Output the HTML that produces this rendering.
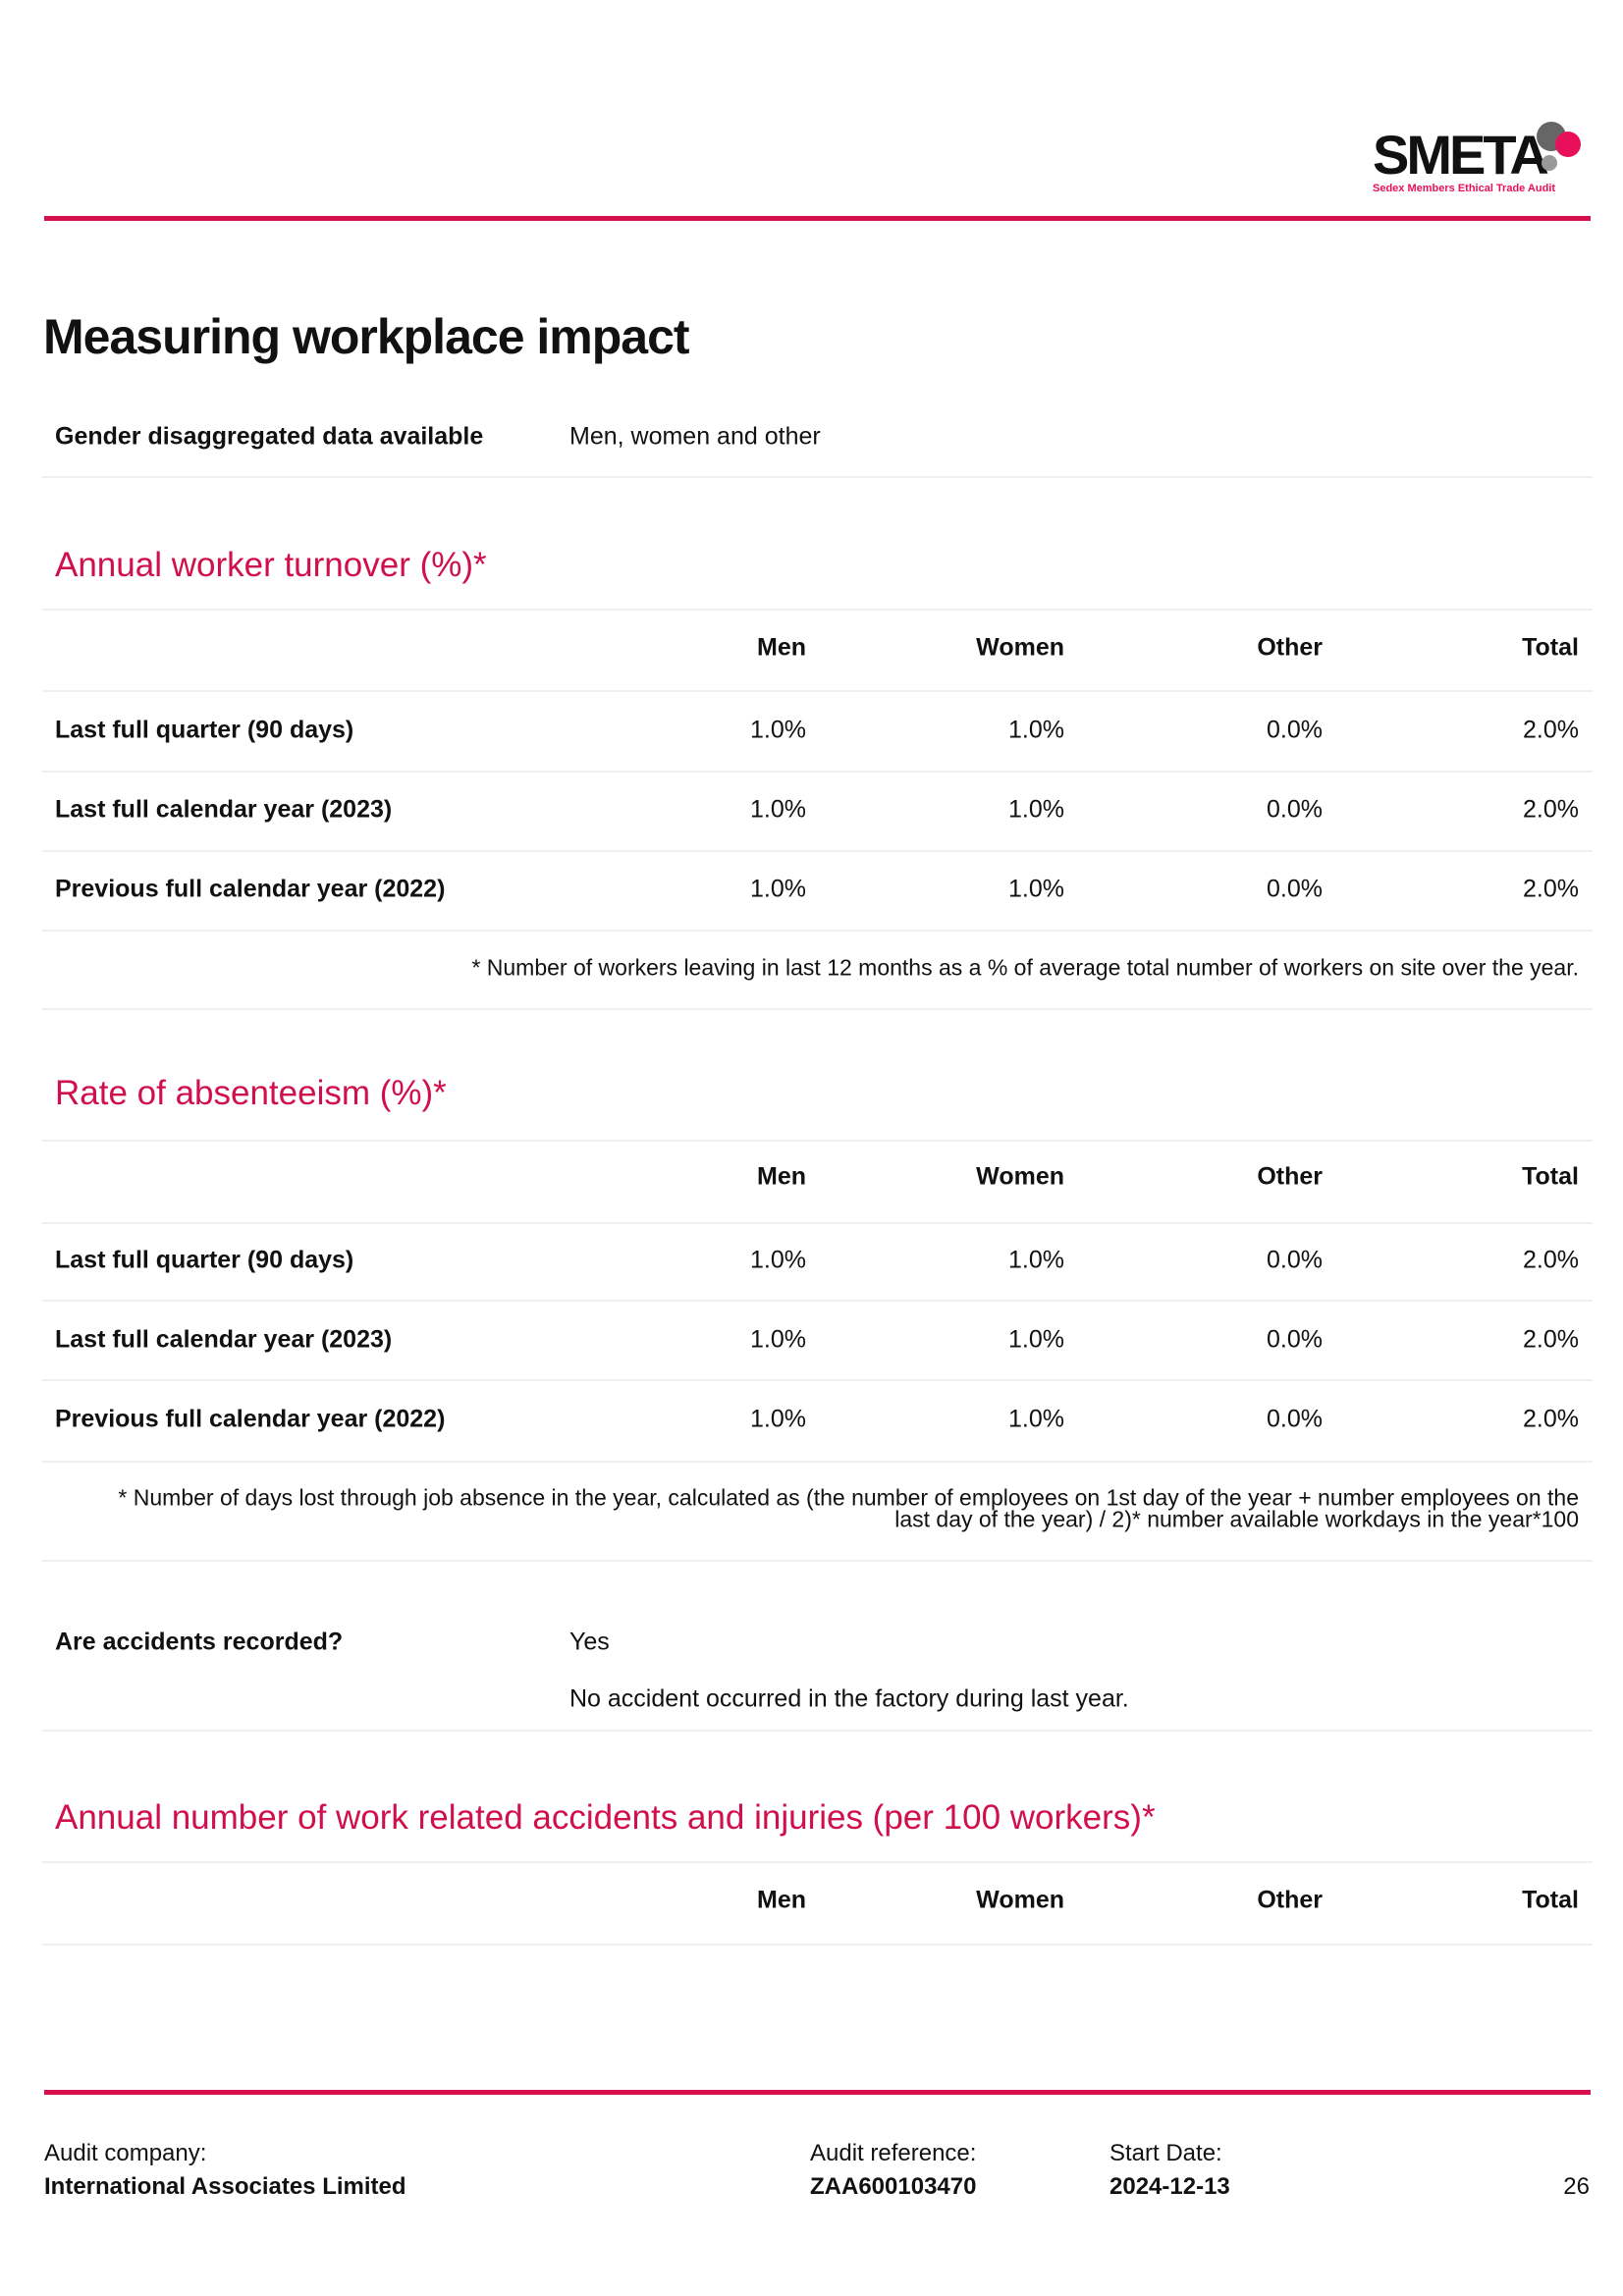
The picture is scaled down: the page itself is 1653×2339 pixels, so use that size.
<!DOCTYPE html>
<html><head><meta charset="utf-8"><style>
html,body{margin:0;padding:0;background:#fff}
body{width:1653px;height:2339px;position:relative;overflow:hidden;font-family:"Liberation Sans",sans-serif;color:#111}
.a{position:absolute;white-space:nowrap}
.red{position:absolute;left:45px;width:1575px;height:5px;background:#d5104d}
.ln{position:absolute;left:43px;width:1579px;height:2px;background:#efefef}
.t{font-size:25px;transform:translateY(-50%)}
.b{font-weight:bold}
.r{text-align:right;transform:translate(-100%,-50%)}
.h{color:#d0104c;font-size:35px;transform:translateY(-50%)}
.fn{font-size:23px}
.ft{font-size:24px}
</style></head><body>
<!-- logo -->
<div class="a" style="left:1398px;top:130px;font-size:56px;font-weight:bold;letter-spacing:-3px;line-height:56px">SMETA</div>
<div style="position:absolute;left:1565px;top:124px;width:30px;height:30px;border-radius:50%;background:#666"></div>
<div style="position:absolute;left:1584px;top:134px;width:26px;height:26px;border-radius:50%;background:#e8105a"></div>
<div style="position:absolute;left:1570px;top:158px;width:16px;height:16px;border-radius:50%;background:#999"></div>
<div class="a" style="left:1398px;top:186px;font-size:11px;font-weight:bold;color:#e8105a">Sedex Members Ethical Trade Audit</div>
<div class="red" style="top:220px"></div>

<div class="a" style="left:44px;top:343px;font-size:50px;font-weight:bold;transform:translateY(-50%);letter-spacing:-1px">Measuring workplace impact</div>
<div class="a t b" style="left:56px;top:445px">Gender disaggregated data available</div>
<div class="a t" style="left:580px;top:445px">Men, women and other</div>
<div class="ln" style="top:485px"></div>

<!-- table 1 -->
<div class="a h" style="left:56px;top:576px">Annual worker turnover (%)*</div>
<div class="ln" style="top:620px"></div>
<div class="a t b r" style="left:821px;top:660px">Men</div>
<div class="a t b r" style="left:1084px;top:660px">Women</div>
<div class="a t b r" style="left:1347px;top:660px">Other</div>
<div class="a t b r" style="left:1608px;top:660px">Total</div>
<div class="ln" style="top:703px"></div>
<div class="a t b" style="left:56px;top:744px">Last full quarter (90 days)</div>
<div class="a t r" style="left:821px;top:744px">1.0%</div><div class="a t r" style="left:1084px;top:744px">1.0%</div><div class="a t r" style="left:1347px;top:744px">0.0%</div><div class="a t r" style="left:1608px;top:744px">2.0%</div>
<div class="ln" style="top:785px"></div>
<div class="a t b" style="left:56px;top:825px">Last full calendar year (2023)</div>
<div class="a t r" style="left:821px;top:825px">1.0%</div><div class="a t r" style="left:1084px;top:825px">1.0%</div><div class="a t r" style="left:1347px;top:825px">0.0%</div><div class="a t r" style="left:1608px;top:825px">2.0%</div>
<div class="ln" style="top:866px"></div>
<div class="a t b" style="left:56px;top:906px">Previous full calendar year (2022)</div>
<div class="a t r" style="left:821px;top:906px">1.0%</div><div class="a t r" style="left:1084px;top:906px">1.0%</div><div class="a t r" style="left:1347px;top:906px">0.0%</div><div class="a t r" style="left:1608px;top:906px">2.0%</div>
<div class="ln" style="top:947px"></div>
<div class="a r fn" style="left:1608px;top:986px">* Number of workers leaving in last 12 months as a % of average total number of workers on site over the year.</div>
<div class="ln" style="top:1027px"></div>

<!-- table 2 -->
<div class="a h" style="left:56px;top:1114px">Rate of absenteeism (%)*</div>
<div class="ln" style="top:1161px"></div>
<div class="a t b r" style="left:821px;top:1199px">Men</div>
<div class="a t b r" style="left:1084px;top:1199px">Women</div>
<div class="a t b r" style="left:1347px;top:1199px">Other</div>
<div class="a t b r" style="left:1608px;top:1199px">Total</div>
<div class="ln" style="top:1245px"></div>
<div class="a t b" style="left:56px;top:1284px">Last full quarter (90 days)</div>
<div class="a t r" style="left:821px;top:1284px">1.0%</div><div class="a t r" style="left:1084px;top:1284px">1.0%</div><div class="a t r" style="left:1347px;top:1284px">0.0%</div><div class="a t r" style="left:1608px;top:1284px">2.0%</div>
<div class="ln" style="top:1324px"></div>
<div class="a t b" style="left:56px;top:1365px">Last full calendar year (2023)</div>
<div class="a t r" style="left:821px;top:1365px">1.0%</div><div class="a t r" style="left:1084px;top:1365px">1.0%</div><div class="a t r" style="left:1347px;top:1365px">0.0%</div><div class="a t r" style="left:1608px;top:1365px">2.0%</div>
<div class="ln" style="top:1405px"></div>
<div class="a t b" style="left:56px;top:1446px">Previous full calendar year (2022)</div>
<div class="a t r" style="left:821px;top:1446px">1.0%</div><div class="a t r" style="left:1084px;top:1446px">1.0%</div><div class="a t r" style="left:1347px;top:1446px">0.0%</div><div class="a t r" style="left:1608px;top:1446px">2.0%</div>
<div class="ln" style="top:1488px"></div>
<div class="a r fn" style="left:1608px;top:1526px">* Number of days lost through job absence in the year, calculated as (the number of employees on 1st day of the year + number employees on the</div>
<div class="a r fn" style="left:1608px;top:1548px">last day of the year) / 2)* number available workdays in the year*100</div>
<div class="ln" style="top:1589px"></div>

<div class="a t b" style="left:56px;top:1673px">Are accidents recorded?</div>
<div class="a t" style="left:580px;top:1673px">Yes</div>
<div class="a t" style="left:580px;top:1731px">No accident occurred in the factory during last year.</div>
<div class="ln" style="top:1762px"></div>

<div class="a h" style="left:56px;top:1852px">Annual number of work related accidents and injuries (per 100 workers)*</div>
<div class="ln" style="top:1896px"></div>
<div class="a t b r" style="left:821px;top:1936px">Men</div>
<div class="a t b r" style="left:1084px;top:1936px">Women</div>
<div class="a t b r" style="left:1347px;top:1936px">Other</div>
<div class="a t b r" style="left:1608px;top:1936px">Total</div>
<div class="ln" style="top:1980px"></div>

<!-- footer -->
<div class="red" style="top:2129px"></div>
<div class="a t ft" style="left:45px;top:2194px">Audit company:</div>
<div class="a t b ft" style="left:45px;top:2228px">International Associates Limited</div>
<div class="a t ft" style="left:825px;top:2194px">Audit reference:</div>
<div class="a t b ft" style="left:825px;top:2228px">ZAA600103470</div>
<div class="a t ft" style="left:1130px;top:2194px">Start Date:</div>
<div class="a t b ft" style="left:1130px;top:2228px">2024-12-13</div>
<div class="a t r ft" style="left:1619px;top:2228px">26</div>
</body></html>
